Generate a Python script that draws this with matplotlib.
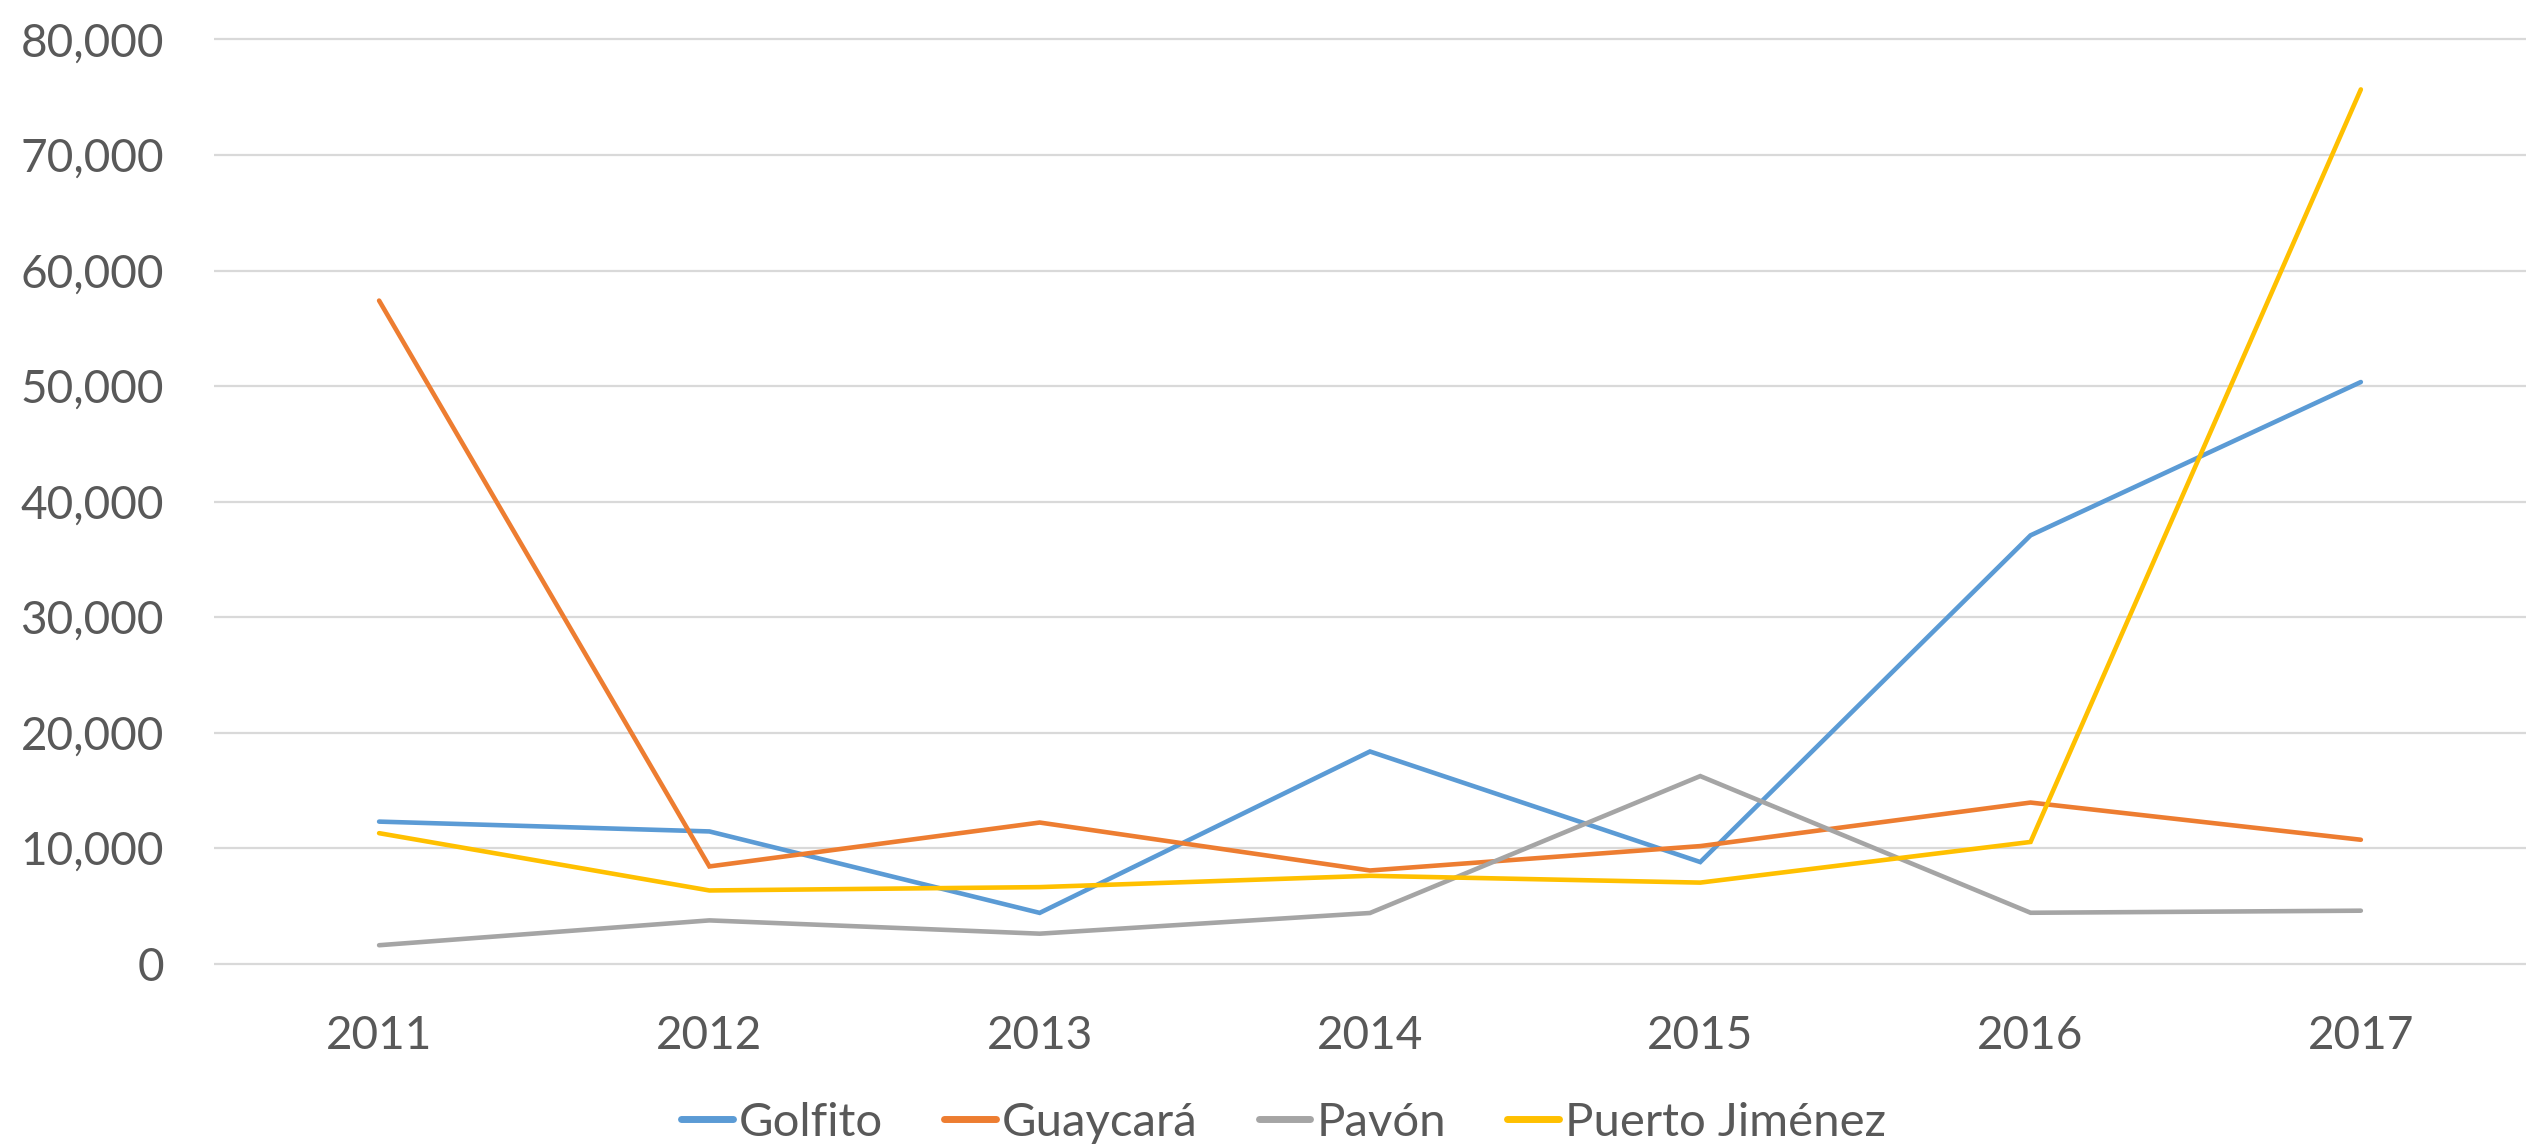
import matplotlib
matplotlib.use("Agg")
import matplotlib.pyplot as plt
from matplotlib.ticker import FuncFormatter

# annual values per district
years = ["2011", "2012", "2013", "2014", "2015", "2016", "2017"]
golfito = [12300, 11450, 4400, 18370, 8800, 37080, 50350]
guaycara = [57400, 8420, 12220, 8070, 10180, 13950, 10730]
pavon = [1600, 3750, 2600, 4390, 16240, 4410, 4590]
puerto_jimenez = [11300, 6340, 6630, 7610, 7020, 10540, 75680]

series = [
    ("Golfito", golfito, "#5B9BD5"),
    ("Guaycará", guaycara, "#ED7D31"),
    ("Pavón", pavon, "#A5A5A5"),
    ("Puerto Jiménez", puerto_jimenez, "#FFC000"),
]

TEXT = "#595959"
GRID = "#D9D9D9"

plt.rcParams["font.family"] = ["Lato", "DejaVu Sans"]

fig = plt.figure(figsize=(25.26, 11.46), dpi=100)
ax = fig.add_axes([0.0847, 0.151, 0.9153, 0.8226])

x = range(len(years))
for name, vals, color in series:
    ax.plot(x, vals, color=color, lw=3.3, label=name, solid_capstyle="round",
            solid_joinstyle="miter")

ax.set_xlim(-0.5, len(years) - 0.5)
ax.set_ylim(-800, 80800)
ax.set_yticks(range(0, 80001, 10000))
ax.yaxis.set_major_formatter(FuncFormatter(lambda v, p: f"{int(v):,}"))
ax.set_xticks(list(x))
ax.set_xticklabels(years)

ax.grid(axis="y", color=GRID, lw=1.6)
ax.set_axisbelow(True)
for sp in ax.spines.values():
    sp.set_visible(False)
ax.tick_params(axis="both", length=0, labelsize=33, colors=TEXT)
ax.tick_params(axis="y", pad=36)
ax.tick_params(axis="x", pad=30)

leg = fig.legend(loc="lower center", ncol=4, frameon=False, fontsize=34,
                 handlelength=1.1, handletextpad=0.12, columnspacing=1.3,
                 bbox_to_anchor=(0.508, -0.035))
for t in leg.get_texts():
    t.set_color(TEXT)
for h in leg.get_lines():
    h.set_linewidth(5)

fig.savefig("out.png", dpi=100, facecolor="white")
